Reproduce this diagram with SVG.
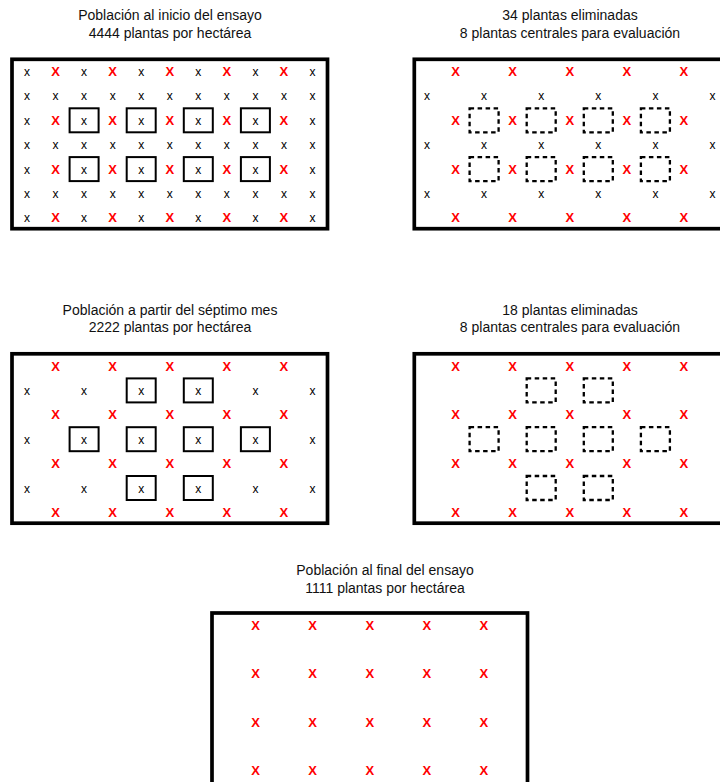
<svg xmlns="http://www.w3.org/2000/svg" width="720" height="782" viewBox="0 0 720 782">
<style>
.t{font-family:"Liberation Sans",Arial,sans-serif;font-size:14px;text-anchor:middle;fill:#111}
.k{font-family:"Liberation Sans",Arial,sans-serif;font-size:12px;text-anchor:middle;fill:#000}
.r{font-family:"Liberation Sans",Arial,sans-serif;font-size:13px;font-weight:bold;text-anchor:middle;fill:#ff0000}
.frame{fill:none;stroke:#000;stroke-width:3.7}
.sb{fill:none;stroke:#000;stroke-width:2}
.db{fill:none;stroke:#000;stroke-width:2.3;stroke-dasharray:4.5 3.5}
</style>
<rect width="720" height="782" fill="#fff"/>
<g id="connectors"/>

<g id="panel1">
<text class="t" x="170" y="20">Población al inicio del ensayo</text>
<text class="t" x="170" y="37.5">4444 plantas por hectárea</text>
<rect class="frame" x="12" y="59.3" width="315.5" height="169.4"/>
<!-- row 1 -->
<text class="k" x="27" y="76">x</text><text class="r" x="55.55" y="76">X</text><text class="k" x="84.1" y="76">x</text><text class="r" x="112.65" y="76">X</text><text class="k" x="141.2" y="76">x</text><text class="r" x="169.75" y="76">X</text><text class="k" x="198.3" y="76">x</text><text class="r" x="226.85" y="76">X</text><text class="k" x="255.4" y="76">x</text><text class="r" x="283.95" y="76">X</text><text class="k" x="312.5" y="76">x</text>
<!-- row 2 -->
<text class="k" x="27" y="100.4">x</text><text class="k" x="55.55" y="100.4">x</text><text class="k" x="84.1" y="100.4">x</text><text class="k" x="112.65" y="100.4">x</text><text class="k" x="141.2" y="100.4">x</text><text class="k" x="169.75" y="100.4">x</text><text class="k" x="198.3" y="100.4">x</text><text class="k" x="226.85" y="100.4">x</text><text class="k" x="255.4" y="100.4">x</text><text class="k" x="283.95" y="100.4">x</text><text class="k" x="312.5" y="100.4">x</text>
<!-- row 3 -->
<text class="k" x="27" y="124.8">x</text><text class="r" x="55.55" y="124.8">X</text><text class="k" x="84.1" y="124.8">x</text><text class="r" x="112.65" y="124.8">X</text><text class="k" x="141.2" y="124.8">x</text><text class="r" x="169.75" y="124.8">X</text><text class="k" x="198.3" y="124.8">x</text><text class="r" x="226.85" y="124.8">X</text><text class="k" x="255.4" y="124.8">x</text><text class="r" x="283.95" y="124.8">X</text><text class="k" x="312.5" y="124.8">x</text>
<rect class="sb" x="69.6" y="108.3" width="29" height="24"/><rect class="sb" x="126.7" y="108.3" width="29" height="24"/><rect class="sb" x="183.8" y="108.3" width="29" height="24"/><rect class="sb" x="240.9" y="108.3" width="29" height="24"/>
<!-- row 4 -->
<text class="k" x="27" y="149.2">x</text><text class="k" x="55.55" y="149.2">x</text><text class="k" x="84.1" y="149.2">x</text><text class="k" x="112.65" y="149.2">x</text><text class="k" x="141.2" y="149.2">x</text><text class="k" x="169.75" y="149.2">x</text><text class="k" x="198.3" y="149.2">x</text><text class="k" x="226.85" y="149.2">x</text><text class="k" x="255.4" y="149.2">x</text><text class="k" x="283.95" y="149.2">x</text><text class="k" x="312.5" y="149.2">x</text>
<!-- row 5 -->
<text class="k" x="27" y="173.6">x</text><text class="r" x="55.55" y="173.6">X</text><text class="k" x="84.1" y="173.6">x</text><text class="r" x="112.65" y="173.6">X</text><text class="k" x="141.2" y="173.6">x</text><text class="r" x="169.75" y="173.6">X</text><text class="k" x="198.3" y="173.6">x</text><text class="r" x="226.85" y="173.6">X</text><text class="k" x="255.4" y="173.6">x</text><text class="r" x="283.95" y="173.6">X</text><text class="k" x="312.5" y="173.6">x</text>
<rect class="sb" x="69.6" y="157.1" width="29" height="24"/><rect class="sb" x="126.7" y="157.1" width="29" height="24"/><rect class="sb" x="183.8" y="157.1" width="29" height="24"/><rect class="sb" x="240.9" y="157.1" width="29" height="24"/>
<!-- row 6 -->
<text class="k" x="27" y="198">x</text><text class="k" x="55.55" y="198">x</text><text class="k" x="84.1" y="198">x</text><text class="k" x="112.65" y="198">x</text><text class="k" x="141.2" y="198">x</text><text class="k" x="169.75" y="198">x</text><text class="k" x="198.3" y="198">x</text><text class="k" x="226.85" y="198">x</text><text class="k" x="255.4" y="198">x</text><text class="k" x="283.95" y="198">x</text><text class="k" x="312.5" y="198">x</text>
<!-- row 7 -->
<text class="k" x="27" y="222.4">x</text><text class="r" x="55.55" y="222.4">X</text><text class="k" x="84.1" y="222.4">x</text><text class="r" x="112.65" y="222.4">X</text><text class="k" x="141.2" y="222.4">x</text><text class="r" x="169.75" y="222.4">X</text><text class="k" x="198.3" y="222.4">x</text><text class="r" x="226.85" y="222.4">X</text><text class="k" x="255.4" y="222.4">x</text><text class="r" x="283.95" y="222.4">X</text><text class="k" x="312.5" y="222.4">x</text>
</g>

<g id="panel2">
<text class="t" x="570" y="20">34 plantas eliminadas</text>
<text class="t" x="570" y="37.5">8 plantas centrales para evaluación</text>
<rect class="frame" x="414.3" y="59.3" width="315.5" height="169.4"/>
<text class="r" x="455.55" y="76">X</text><text class="r" x="512.65" y="76">X</text><text class="r" x="569.75" y="76">X</text><text class="r" x="626.85" y="76">X</text><text class="r" x="683.95" y="76">X</text>
<text class="k" x="427" y="100.4">x</text><text class="k" x="484.1" y="100.4">x</text><text class="k" x="541.2" y="100.4">x</text><text class="k" x="598.3" y="100.4">x</text><text class="k" x="655.4" y="100.4">x</text><text class="k" x="712.5" y="100.4">x</text>
<text class="r" x="455.55" y="124.8">X</text><text class="r" x="512.65" y="124.8">X</text><text class="r" x="569.75" y="124.8">X</text><text class="r" x="626.85" y="124.8">X</text><text class="r" x="683.95" y="124.8">X</text>
<rect class="db" x="469.6" y="108.3" width="29" height="24"/><rect class="db" x="526.7" y="108.3" width="29" height="24"/><rect class="db" x="583.8" y="108.3" width="29" height="24"/><rect class="db" x="640.9" y="108.3" width="29" height="24"/>
<text class="k" x="427" y="149.2">x</text><text class="k" x="484.1" y="149.2">x</text><text class="k" x="541.2" y="149.2">x</text><text class="k" x="598.3" y="149.2">x</text><text class="k" x="655.4" y="149.2">x</text><text class="k" x="712.5" y="149.2">x</text>
<text class="r" x="455.55" y="173.6">X</text><text class="r" x="512.65" y="173.6">X</text><text class="r" x="569.75" y="173.6">X</text><text class="r" x="626.85" y="173.6">X</text><text class="r" x="683.95" y="173.6">X</text>
<rect class="db" x="469.6" y="157.1" width="29" height="24"/><rect class="db" x="526.7" y="157.1" width="29" height="24"/><rect class="db" x="583.8" y="157.1" width="29" height="24"/><rect class="db" x="640.9" y="157.1" width="29" height="24"/>
<text class="k" x="427" y="198">x</text><text class="k" x="484.1" y="198">x</text><text class="k" x="541.2" y="198">x</text><text class="k" x="598.3" y="198">x</text><text class="k" x="655.4" y="198">x</text><text class="k" x="712.5" y="198">x</text>
<text class="r" x="455.55" y="222.4">X</text><text class="r" x="512.65" y="222.4">X</text><text class="r" x="569.75" y="222.4">X</text><text class="r" x="626.85" y="222.4">X</text><text class="r" x="683.95" y="222.4">X</text>
</g>

<g id="panel3">
<text class="t" x="170" y="314.5">Población a partir del séptimo mes</text>
<text class="t" x="170" y="332">2222 plantas por hectárea</text>
<rect class="frame" x="12" y="353.8" width="315.5" height="169.4"/>
<text class="r" x="55.55" y="370.5">X</text><text class="r" x="112.65" y="370.5">X</text><text class="r" x="169.75" y="370.5">X</text><text class="r" x="226.85" y="370.5">X</text><text class="r" x="283.95" y="370.5">X</text>
<text class="k" x="27" y="394.9">x</text><text class="k" x="84.1" y="394.9">x</text><text class="k" x="141.2" y="394.9">x</text><text class="k" x="198.3" y="394.9">x</text><text class="k" x="255.4" y="394.9">x</text><text class="k" x="312.5" y="394.9">x</text>
<rect class="sb" x="126.7" y="378.4" width="29" height="24"/><rect class="sb" x="183.8" y="378.4" width="29" height="24"/>
<text class="r" x="55.55" y="419.3">X</text><text class="r" x="112.65" y="419.3">X</text><text class="r" x="169.75" y="419.3">X</text><text class="r" x="226.85" y="419.3">X</text><text class="r" x="283.95" y="419.3">X</text>
<text class="k" x="27" y="443.7">x</text><text class="k" x="84.1" y="443.7">x</text><text class="k" x="141.2" y="443.7">x</text><text class="k" x="198.3" y="443.7">x</text><text class="k" x="255.4" y="443.7">x</text><text class="k" x="312.5" y="443.7">x</text>
<rect class="sb" x="69.6" y="427.2" width="29" height="24"/><rect class="sb" x="126.7" y="427.2" width="29" height="24"/><rect class="sb" x="183.8" y="427.2" width="29" height="24"/><rect class="sb" x="240.9" y="427.2" width="29" height="24"/>
<text class="r" x="55.55" y="468.1">X</text><text class="r" x="112.65" y="468.1">X</text><text class="r" x="169.75" y="468.1">X</text><text class="r" x="226.85" y="468.1">X</text><text class="r" x="283.95" y="468.1">X</text>
<text class="k" x="27" y="492.5">x</text><text class="k" x="84.1" y="492.5">x</text><text class="k" x="141.2" y="492.5">x</text><text class="k" x="198.3" y="492.5">x</text><text class="k" x="255.4" y="492.5">x</text><text class="k" x="312.5" y="492.5">x</text>
<rect class="sb" x="126.7" y="476" width="29" height="24"/><rect class="sb" x="183.8" y="476" width="29" height="24"/>
<text class="r" x="55.55" y="516.9">X</text><text class="r" x="112.65" y="516.9">X</text><text class="r" x="169.75" y="516.9">X</text><text class="r" x="226.85" y="516.9">X</text><text class="r" x="283.95" y="516.9">X</text>
</g>

<g id="panel4">
<text class="t" x="570" y="314.5">18 plantas eliminadas</text>
<text class="t" x="570" y="332">8 plantas centrales para evaluación</text>
<rect class="frame" x="414.3" y="353.8" width="315.5" height="169.4"/>
<text class="r" x="455.55" y="370.5">X</text><text class="r" x="512.65" y="370.5">X</text><text class="r" x="569.75" y="370.5">X</text><text class="r" x="626.85" y="370.5">X</text><text class="r" x="683.95" y="370.5">X</text>
<rect class="db" x="526.7" y="378.4" width="29" height="24"/><rect class="db" x="583.8" y="378.4" width="29" height="24"/>
<text class="r" x="455.55" y="419.3">X</text><text class="r" x="512.65" y="419.3">X</text><text class="r" x="569.75" y="419.3">X</text><text class="r" x="626.85" y="419.3">X</text><text class="r" x="683.95" y="419.3">X</text>
<rect class="db" x="469.6" y="427.2" width="29" height="24"/><rect class="db" x="526.7" y="427.2" width="29" height="24"/><rect class="db" x="583.8" y="427.2" width="29" height="24"/><rect class="db" x="640.9" y="427.2" width="29" height="24"/>
<text class="r" x="455.55" y="468.1">X</text><text class="r" x="512.65" y="468.1">X</text><text class="r" x="569.75" y="468.1">X</text><text class="r" x="626.85" y="468.1">X</text><text class="r" x="683.95" y="468.1">X</text>
<rect class="db" x="526.7" y="476" width="29" height="24"/><rect class="db" x="583.8" y="476" width="29" height="24"/>
<text class="r" x="455.55" y="516.9">X</text><text class="r" x="512.65" y="516.9">X</text><text class="r" x="569.75" y="516.9">X</text><text class="r" x="626.85" y="516.9">X</text><text class="r" x="683.95" y="516.9">X</text>
</g>

<g id="panel5">
<text class="t" x="385" y="575">Población al final del ensayo</text>
<text class="t" x="385" y="592.5">1111 plantas por hectárea</text>
<rect class="frame" x="212" y="613" width="315.5" height="172"/>
<text class="r" x="255.55" y="630">X</text><text class="r" x="312.65" y="630">X</text><text class="r" x="369.75" y="630">X</text><text class="r" x="426.85" y="630">X</text><text class="r" x="483.95" y="630">X</text>
<text class="r" x="255.55" y="678.4">X</text><text class="r" x="312.65" y="678.4">X</text><text class="r" x="369.75" y="678.4">X</text><text class="r" x="426.85" y="678.4">X</text><text class="r" x="483.95" y="678.4">X</text>
<text class="r" x="255.55" y="726.8">X</text><text class="r" x="312.65" y="726.8">X</text><text class="r" x="369.75" y="726.8">X</text><text class="r" x="426.85" y="726.8">X</text><text class="r" x="483.95" y="726.8">X</text>
<text class="r" x="255.55" y="775.2">X</text><text class="r" x="312.65" y="775.2">X</text><text class="r" x="369.75" y="775.2">X</text><text class="r" x="426.85" y="775.2">X</text><text class="r" x="483.95" y="775.2">X</text>
</g>
</svg>
